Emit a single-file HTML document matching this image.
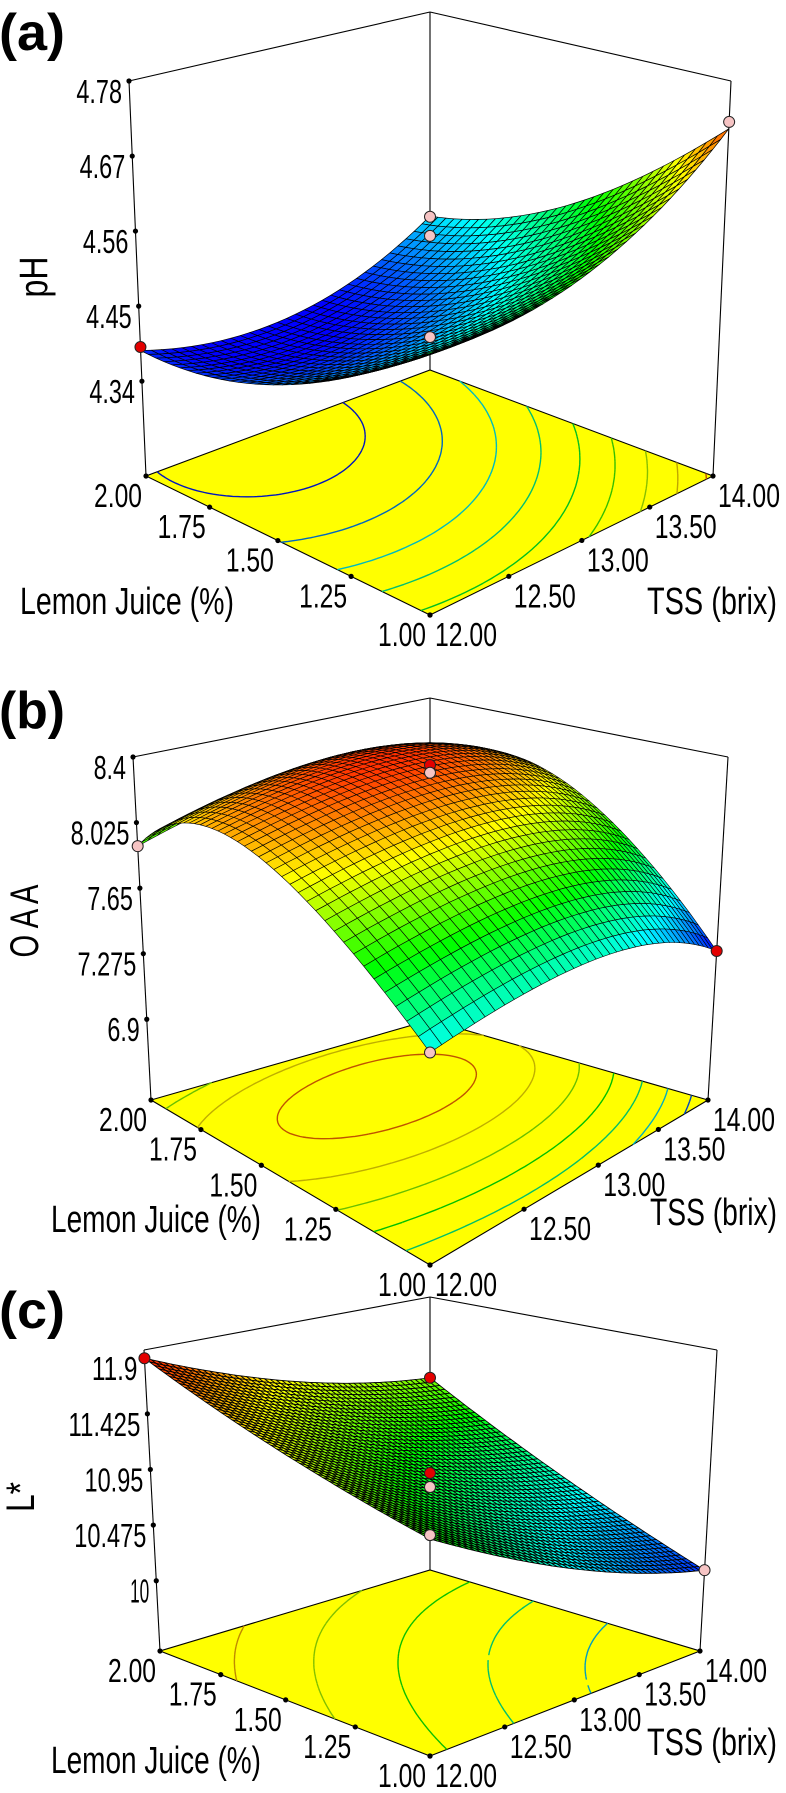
<!DOCTYPE html>
<html><head><meta charset="utf-8">
<style>
html,body{margin:0;padding:0;background:#fff;}
svg{display:block;}
text{font-family:"Liberation Sans",Arial,sans-serif;fill:#000;}
</style></head>
<body>
<svg id="fig" width="786" height="1793" viewBox="0 0 786 1793" xmlns="http://www.w3.org/2000/svg"></svg>
<script>
var ljTicks = [1.00, 1.25, 1.50, 1.75, 2.00];
var tssTicks = [12.00, 12.50, 13.00, 13.50, 14.00];
var zTicksA = [4.34, 4.45, 4.56, 4.67, 4.78];
var zTicksB = [6.9, 7.275, 7.65, 8.025, 8.4];
var zTicksC = [10, 10.475, 10.95, 11.425, 11.9];
var zTickLabelsA = ["4.34", "4.45", "4.56", "4.67", "4.78"];
var zTickLabelsB = ["6.9", "7.275", "7.65", "8.025", "8.4"];
var zTickLabelsC = ["10", "10.475", "10.95", "11.425", "11.9"];
// model coefficients (coded units): [const, u, v, u^2, v^2, uv]
var coefA = [4.55, -0.0567, -0.363, 0.2167, 0.198, -0.095];
var coefB = [7.58, 0.382, 2.165, -0.672, -1.855, 0.375];
var coefC = [11.08, -1.49, 0.62, 0.5, 0.2, 0.30];
// design points: [TSS, lemon juice, response]
var pointsA = [[12, 2.0, 4.39], [14, 1.0, 4.72], [13, 1.5, 4.581], [13, 1.5, 4.553], [12, 1.0, 4.57]];
var pointsB = [[12, 2.0, 7.89], [14, 1.0, 7.29], [13, 1.5, 8.354], [13, 1.5, 8.31], [12, 1.0, 7.58]];
var pointsC = [[12, 2.0, 11.9], [14, 2.0, 11.21], [14, 1.0, 10.09], [13, 1.5, 10.92], [13, 1.5, 10.80], [12, 1.0, 11.11]];
var pointAboveA = [true, false, false, false, false];
var pointAboveB = [false, true, true, false, false];
var pointAboveC = [true, true, false, true, false, false];
var contourLevelsA = [4.38, 4.42, 4.46, 4.50, 4.54, 4.58, 4.62, 4.66, 4.70];
var contourLevelsB = [8.28, 8.15, 8.0, 7.85, 7.7, 7.55, 7.4];
var contourLevelsC = [11.6, 11.3, 11.0, 10.7, 10.4];

var panels = [
 {id:'a', label:'(a)', ztitle:'pH', coef:coefA, ticks:zTicksA, tickLabels:zTickLabelsA, pts:pointsA, above:pointAboveA, levels:contourLevelsA,
  F:[430,615],R:[713,476],B:[430,370],L:[146,476], Ft:[430,179],Rt:[731,81],Bt:[430,12],Lt:[129,81], zTop:4.78, zFloor:4.201,
  cmin:4.37, cmax:4.74, N:32, sw:0.7, labY:50, ljB:614, tssB:614, zx:33, zy:277, zlen:41, ljX:[20,234], tssX:[647,777]},
 {id:'b', label:'(b)', ztitle:'O A A', coef:coefB, ticks:zTicksB, tickLabels:zTickLabelsB, pts:pointsB, above:pointAboveB, levels:contourLevelsB,
  F:[430,1265],R:[708,1100],B:[430,1020],L:[151,1100], Ft:[430,900],Rt:[728,757],Bt:[430,698],Lt:[133,757], zTop:8.4, zFloor:6.438,
  cmin:7.3, cmax:8.4, N:40, sw:0.6, labY:728, ljB:1232, tssB:1225, zx:24, zy:921, zlen:73, ljX:[51,261], tssX:[650,777]},
 {id:'c', label:'(c)', ztitle:'L*', coef:coefC, ticks:zTicksC, tickLabels:zTickLabelsC, pts:pointsC, above:pointAboveC, levels:contourLevelsC,
  F:[430,1756],R:[700,1651],B:[430,1570],L:[160,1651], Ft:[430,1424],Rt:[717,1350],Bt:[430,1297],Lt:[144,1350], zTop:11.97, zFloor:9.40,
  cmin:10.0, cmax:11.95, N:50, sw:0.85, labY:1328, ljB:1773, tssB:1755, zx:20, zy:1497, zlen:30, ljX:[51,261], tssX:[647,777]}
];

var SVGNS = 'http://www.w3.org/2000/svg';
var fig = document.getElementById('fig');
function mk(tag, attrs, parent){
  var e = document.createElementNS(SVGNS, tag);
  for (var k in attrs) e.setAttribute(k, attrs[k]);
  (parent || fig).appendChild(e);
  return e;
}
function homog(p0,p1,p2,p3){
  var x0=p0[0],y0=p0[1],x1=p1[0],y1=p1[1],x2=p2[0],y2=p2[1],x3=p3[0],y3=p3[1];
  var dx1=x1-x2,dx2=x3-x2,dx3=x0-x1+x2-x3,dy1=y1-y2,dy2=y3-y2,dy3=y0-y1+y2-y3;
  var g=0,h=0;
  if (Math.abs(dx3)>1e-9||Math.abs(dy3)>1e-9){
    var den=dx1*dy2-dx2*dy1; g=(dx3*dy2-dx2*dy3)/den; h=(dx1*dy3-dx3*dy1)/den;
  }
  var a=x1-x0+g*x1,b=x3-x0+h*x3,c=x0,d=y1-y0+g*y1,e=y3-y0+h*y3,f=y0;
  return function(u,v){var w=g*u+h*v+1;return [(a*u+b*v+c)/w,(d*u+e*v+f)/w];};
}
var JET=[[0,0,0,255],[0.25,0,255,255],[0.5,0,255,0],[0.75,255,255,0],[1,255,0,0]];
function jet(t){
  t=Math.max(0,Math.min(1,t));
  for(var i=0;i<4;i++){
    if(t<=JET[i+1][0]){
      var k=(t-JET[i][0])/(JET[i+1][0]-JET[i][0]);
      return [JET[i][1]+k*(JET[i+1][1]-JET[i][1]),JET[i][2]+k*(JET[i+1][2]-JET[i][2]),JET[i][3]+k*(JET[i+1][3]-JET[i][3])];
    }
  }
  return [255,0,0];
}
function rgbStr(col,m){ if(!m) m=1; return 'rgb('+Math.round(col[0]*m)+','+Math.round(col[1]*m)+','+Math.round(col[2]*m)+')'; }
function addText(parent,s,x,y,size,len,anchor,extra){
  var at={'x':x,'y':y,'font-size':size,'text-anchor':anchor||'start'};
  if(len){at['textLength']=len;at['lengthAdjust']='spacingAndGlyphs';}
  if(extra){for(var k in extra) at[k]=extra[k];}
  var t=mk('text',at,parent); t.textContent=s; return t;
}

function drawPanel(P){
  var grp = mk('g',{});
  
  
  var floorMap = homog(P.F,P.R,P.B,P.L);
  var topMap = homog(P.Ft,P.Rt,P.Bt,P.Lt);
  var cf = P.coef;
  function model(u,v){return cf[0]+cf[1]*u+cf[2]*v+cf[3]*u*u+cf[4]*v*v+cf[5]*u*v;}
  function proj(u,v,z){var f=floorMap(u,v),t=topMap(u,v),w=(z-P.zFloor)/(P.zTop-P.zFloor);return [f[0]+w*(t[0]-f[0]),f[1]+w*(t[1]-f[1])];}
  function xU(tss){return (tss-12)/2;}
  function yV(lj){return (lj-1)/1;}

  var pl = addText(grp,P.label,-1,P.labY,52,66,'start',{'font-weight':'bold'});
  
  

  var box = mk('g',{'stroke':'#000','stroke-width':1.1,'fill':'none'},grp);
  
  
  var segs=[[P.L,P.Lt],[P.B,P.Bt],[P.R,P.Rt],[P.Lt,P.Bt],[P.Bt,P.Rt]];
  for(var s=0;s<segs.length;s++){
    mk('line',{x1:segs[s][0][0],y1:segs[s][0][1],x2:segs[s][1][0],y2:segs[s][1][1]},box);
  }

  var fl = mk('polygon',{'points':[P.F,P.R,P.B,P.L].map(function(p){return p[0]+','+p[1];}).join(' '),'fill':'#ffff00','stroke':'#000','stroke-width':1.1},grp);
  
  

  var M=70, grid=[], i, j, k;
  for(i=0;i<=M;i++){grid.push([]);for(j=0;j<=M;j++)grid[i].push(model(i/M,j/M));}
  for(var li=0; li<P.levels.length; li++){
    var Lv=P.levels[li], dstr='';
    for(i=0;i<M;i++)for(j=0;j<M;j++){
      var cs=[[i,j],[i+1,j],[i+1,j+1],[i,j+1]], cp=[];
      for(k=0;k<4;k++){
        var c1=cs[k], c2=cs[(k+1)%4];
        var z1=grid[c1[0]][c1[1]], z2=grid[c2[0]][c2[1]];
        if((z1-Lv)*(z2-Lv)<0){var tt=(Lv-z1)/(z2-z1);cp.push([(c1[0]+tt*(c2[0]-c1[0]))/M,(c1[1]+tt*(c2[1]-c1[1]))/M]);}
      }
      for(k=0;k+1<cp.length;k+=2){
        var pa=floorMap(cp[k][0],cp[k][1]), pb=floorMap(cp[k+1][0],cp[k+1][1]);
        dstr+='M'+pa[0].toFixed(1)+' '+pa[1].toFixed(1)+'L'+pb[0].toFixed(1)+' '+pb[1].toFixed(1);
      }
    }
    var colL=jet((Lv-P.cmin)/(P.cmax-P.cmin));
    if(dstr){
      var cpath=mk('path',{'d':dstr,'stroke':rgbStr(colL,0.75),'stroke-width':1.4,'fill':'none'},grp);
      
      
    }
  }

  for(k=0;k<ljTicks.length;k++){
    var p=floorMap(0,yV(ljTicks[k]));
    var dt=mk('circle',{cx:p[0],cy:p[1],r:2.6,fill:'#000'},grp);
    
    
    var tl=addText(grp,ljTicks[k].toFixed(2),p[0]-28,p[1]+31,33,48,'middle');
    
    
  }
  for(k=0;k<tssTicks.length;k++){
    var q=floorMap(xU(tssTicks[k]),0);
    var dq=mk('circle',{cx:q[0],cy:q[1],r:2.6,fill:'#000'},grp);
    
    
    var tq=addText(grp,tssTicks[k].toFixed(2),q[0]+36,q[1]+31,33,62,'middle');
    
    
  }
  for(k=0;k<P.ticks.length;k++){
    var r=proj(0,1,P.ticks[k]);
    var dr=mk('circle',{cx:r[0],cy:r[1],r:2.6,fill:'#000'},grp);
    
    
    var sl=P.tickLabels[k];
    var tr=addText(grp,sl,r[0]-7,r[1]+22,33,(sl.length-1)*13.2+6,'end');
    
    
  }
  var lt=addText(grp,'Lemon Juice (%)',P.ljX[0],P.ljB,38,P.ljX[1]-P.ljX[0]);
  
  
  var ts=addText(grp,'TSS (brix)',P.tssX[0],P.tssB,38,P.tssX[1]-P.tssX[0]);
  
  
  var zt=addText(grp,P.ztitle,0,0,40,P.zlen,'middle',{'transform':'translate('+(P.zx+14)+','+P.zy+') rotate(-90)'});
  
  

  var sg=mk('g',{'stroke':'#000','stroke-width':P.sw,'stroke-linejoin':'round'},grp);
  
  
  var N=P.N, cells=[];
  for(i=0;i<N;i++)for(j=0;j<N;j++)cells.push([i,j]);
  cells.sort(function(A,B){return (B[0]+B[1])-(A[0]+A[1]);});
  for(var ci=0;ci<cells.length;ci++){
    var a=cells[ci][0], b=cells[ci][1];
    var corners=[[a,b],[a+1,b],[a+1,b+1],[a,b+1]];
    var ptsStr=corners.map(function(cc){var pp=proj(cc[0]/N,cc[1]/N,model(cc[0]/N,cc[1]/N));return pp[0].toFixed(1)+','+pp[1].toFixed(1);}).join(' ');
    var zc=model((a+0.5)/N,(b+0.5)/N);
    var poly=mk('polygon',{'points':ptsStr,'fill':rgbStr(jet((zc-P.cmin)/(P.cmax-P.cmin)))},sg);
    
    
  }

  for(k=0;k<P.pts.length;k++){
    var pt=P.pts[k];
    var pp=proj(xU(pt[0]),yV(pt[1]),pt[2]);
    var circ=mk('circle',{cx:pp[0],cy:pp[1],r:5.5,fill:P.above[k]?'#e30000':'#f6c4c4',stroke:'#222','stroke-width':1},grp);
    
    
  }
}
for(var pi=0; pi<panels.length; pi++){
  try { drawPanel(panels[pi]); } catch(err) { }
}
</script>
</body></html>
